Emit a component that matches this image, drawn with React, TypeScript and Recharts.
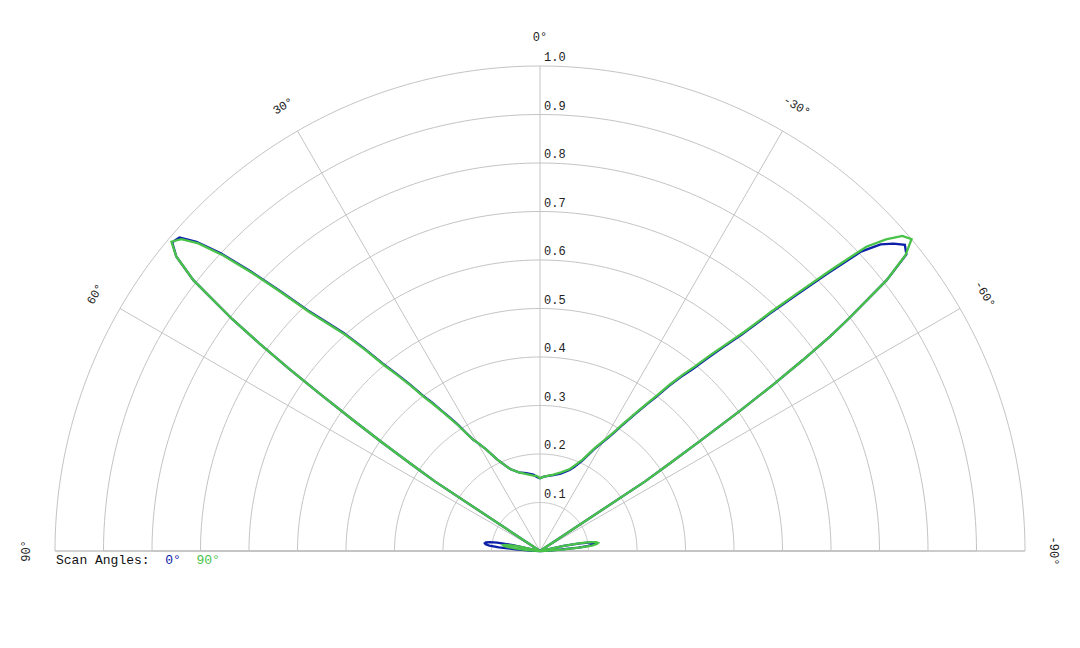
import { RadarChart, Radar, PolarGrid, PolarAngleAxis, PolarRadiusAxis, Legend } from 'recharts'

// beam angle in degrees, + is to the left of broadside
const angles = [
  -90, -88, -87, -86, -85, -84, -83, -82, -81, -80, -79, -78, -76,
  -57.5, -56.5, -56, -55.5, -55, -54.5, -54, -53.5, -53, -52, -51,
  -50, -49, -48, -47, -46, -45, -44, -43, -42, -41, -40, -39, -38, -37, -36, -35, -34, -33, -32, -31, -30,
  -28, -25, -22, -20, -15, -10, -5, -2.5,
  0,
  2.5, 5, 10, 15, 20, 22, 25, 28,
  30, 31, 32, 33, 34, 35, 36, 37, 38, 39, 40, 41, 42, 43, 44, 45, 46, 47, 48, 49, 50,
  51, 52, 53, 53.5, 54, 54.5, 55, 55.5, 56, 56.5, 57.5,
  76, 78, 79, 80, 81, 82, 83, 84, 85, 86, 87, 88, 90,
]

// normalised amplitude, scan angle 0°
const scan0 = [
  0, 0, 0.02, 0.045, 0.08, 0.1, 0.11, 0.115, 0.112, 0.1, 0.08, 0.05, 0,
  0, 0.26, 0.32, 0.4, 0.5, 0.59, 0.67, 0.745, 0.8, 0.907, 0.972,
  0.982, 0.966, 0.945, 0.905, 0.823, 0.745, 0.676, 0.61, 0.567, 0.528, 0.49, 0.462, 0.432, 0.398, 0.373, 0.348, 0.327, 0.307, 0.287, 0.272, 0.26,
  0.238, 0.205, 0.186, 0.178, 0.165, 0.159, 0.155, 0.153,
  0.15,
  0.153, 0.158, 0.163, 0.168, 0.18, 0.19, 0.208, 0.238,
  0.258, 0.268, 0.287, 0.31, 0.331, 0.353, 0.378, 0.401, 0.436, 0.47, 0.505, 0.555, 0.605, 0.645, 0.69, 0.758, 0.832, 0.9, 0.953, 0.985, 0.99,
  0.965, 0.907, 0.795, 0.72, 0.64, 0.555, 0.47, 0.395, 0.32, 0.26, 0,
  0, 0.06, 0.09, 0.105, 0.113, 0.115, 0.113, 0.105, 0.085, 0.05, 0.02, 0, 0,
]

// normalised amplitude, scan angle 90°
const scan90 = [
  0, 0, 0.02, 0.05, 0.085, 0.108, 0.118, 0.121, 0.117, 0.105, 0.085, 0.05, 0,
  0, 0.26, 0.32, 0.4, 0.5, 0.59, 0.67, 0.745, 0.8, 0.907, 0.97,
  1.0, 0.99, 0.96, 0.92, 0.835, 0.755, 0.685, 0.618, 0.574, 0.535, 0.497, 0.468, 0.437, 0.403, 0.377, 0.352, 0.33, 0.31, 0.29, 0.275, 0.262,
  0.24, 0.208, 0.19, 0.18, 0.168, 0.16, 0.155, 0.153,
  0.15,
  0.155, 0.156, 0.161, 0.168, 0.18, 0.19, 0.208, 0.238,
  0.258, 0.268, 0.285, 0.308, 0.328, 0.35, 0.374, 0.397, 0.432, 0.466, 0.5, 0.55, 0.6, 0.64, 0.685, 0.753, 0.826, 0.894, 0.948, 0.98, 0.992,
  0.965, 0.907, 0.795, 0.72, 0.64, 0.555, 0.47, 0.395, 0.32, 0.26, 0,
  0, 0.04, 0.06, 0.072, 0.077, 0.075, 0.068, 0.055, 0.035, 0.015, 0, 0, 0,
]

const angleTicks = [-90, -60, -30, 0, 30, 60, 90]
const radiusTicks = [0.1, 0.2, 0.3, 0.4, 0.5, 0.6, 0.7, 0.8, 0.9, 1.0]

const data = angles.map((angle, i) => ({ angle, scan0: scan0[i], scan90: scan90[i] }))

const MONO = '"Liberation Mono", "Courier New", monospace'
const BLUE = '#0c20a8'
const GREEN = '#48c248'
const GRID = '#c4c4c4'

// half-circle rings are drawn as fine polygons, closed along the baseline
const ringAngles = Array.from({ length: 181 }, (_, i) => i)

const AngleTick = (props: any) => {
  const { x, y, payload } = props
  return (
    <text
      x={x}
      y={y}
      transform={`rotate(${-payload.value} ${x} ${y})`}
      textAnchor="middle"
      dominantBaseline="central"
      fontFamily={MONO}
      fontSize={12}
      fill="#222"
    >
      {payload.value}°
    </text>
  )
}

const RadiusTick = (props: any) => {
  const { x, y, payload } = props
  return (
    <text x={x + 4} y={y - 5} textAnchor="start" fontFamily={MONO} fontSize={12} fill="#222">
      {Number(payload.value).toFixed(1)}
    </text>
  )
}

const renderLegend = (props: any) => {
  const { payload } = props
  return (
    <div style={{ fontFamily: MONO, fontSize: 13, lineHeight: '15px', color: '#111', whiteSpace: 'pre' }}>
      Scan Angles:
      {(payload || []).map((p: any) => (
        <span key={p.value} style={{ color: p.color }}>{'  ' + p.value}</span>
      ))}
    </div>
  )
}

export default function App() {
  return (
    <div style={{ position: 'absolute', left: 0, top: 0, width: 1080, height: 648, background: '#fff' }}>
      <RadarChart
        width={1080}
        height={648}
        data={data}
        cx={540}
        cy={551}
        outerRadius={485}
        startAngle={0}
        endAngle={180}
        margin={{ top: 0, right: 0, bottom: 0, left: 0 }}
      >
        <PolarGrid gridType="polygon" polarAngles={ringAngles} radialLines={false} stroke={GRID} />
        <PolarGrid polarRadius={[]} stroke={GRID} />
        <PolarAngleAxis
          dataKey="angle"
          type="number"
          domain={[-90, 90]}
          ticks={angleTicks}
          tickSize={28}
          tickLine={false}
          axisLine={false}
          tick={AngleTick}
        />
        <PolarRadiusAxis
          angle={90}
          type="number"
          domain={[0, 1]}
          ticks={radiusTicks}
          axisLine={false}
          tickLine={false}
          tick={RadiusTick}
        />
        <Radar name="0°" dataKey="scan0" stroke={BLUE} strokeWidth={2.3} fill="none" dot={false} isAnimationActive={false} />
        <Radar name="90°" dataKey="scan90" stroke={GREEN} strokeWidth={2.3} fill="none" dot={false} isAnimationActive={false} />
        <Legend
          content={renderLegend}
          wrapperStyle={{ position: 'absolute', left: 56, top: 553, bottom: 'auto', width: 'auto', height: 'auto' }}
        />
      </RadarChart>
    </div>
  )
}
